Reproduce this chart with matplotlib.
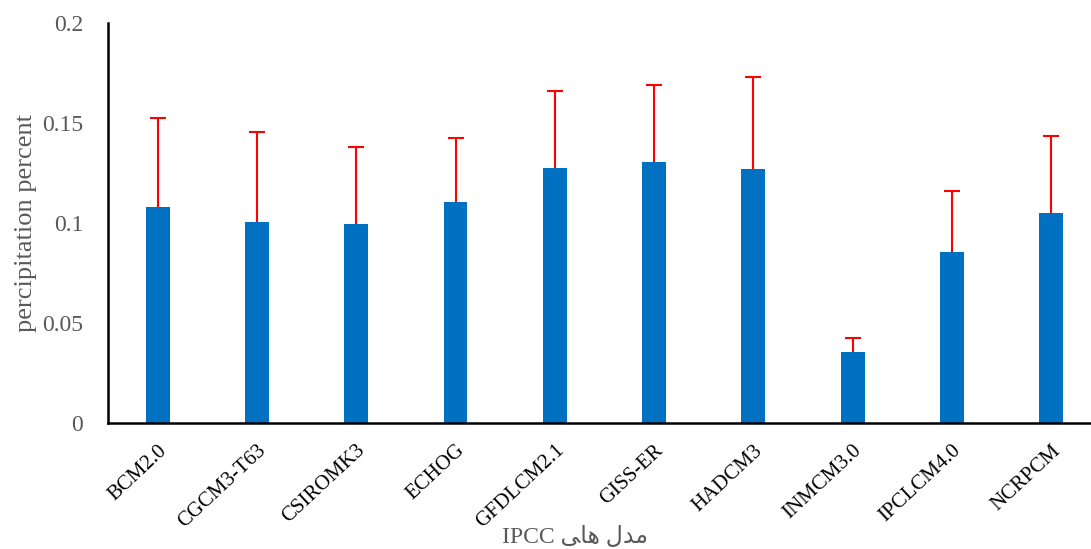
import numpy as np
import matplotlib.pyplot as plt

# IPCC models: precipitation percent with upper error
models = ['BCM2.0', 'CGCM3-T63', 'CSIROMK3', 'ECHOG', 'GFDLCM2.1',
          'GISS-ER', 'HADCM3', 'INMCM3.0', 'IPCLCM4.0', 'NCRPCM']
values = [0.108, 0.1005, 0.0995, 0.1105, 0.1275, 0.1305, 0.127, 0.0355, 0.0855, 0.105]
err_top = [0.1525, 0.1455, 0.138, 0.1425, 0.166, 0.169, 0.173, 0.0425, 0.116, 0.1435]
yticks = [0, 0.05, 0.1, 0.15, 0.2]
ytick_labels = ['0', '0.05', '0.1', '0.15', '0.2']

# x label: "مدل های IPCC" in visual order with presentation forms
xlabel = 'IPCC ' + '\uFBFD\uFE8E\uFEEB' + ' ' + '\uFEDD\uFEAA\uFEE3'

serif = ['Liberation Serif', 'DejaVu Sans']
gray = '#595959'

fig = plt.figure(figsize=(10.91, 5.49), dpi=100)
ax = fig.add_axes([0.099, 0.2295, 0.901, 0.7285])

x = np.arange(len(models))
ax.bar(x, values, width=0.24, color='#0070C0', zorder=2)
# upper error bars only
ax.vlines(x, values, err_top, colors='red', linewidth=1.5, zorder=3)
ax.plot(x, err_top, linestyle='none', marker='_', markersize=12,
        markeredgewidth=1.5, color='red', zorder=3)

ax.set_xlim(-0.5, 9.4)
ax.set_ylim(0, 0.2)
ax.set_yticks(yticks)
ax.set_yticklabels(ytick_labels, family=serif, fontsize=17, color=gray)
ax.set_xticks(x)
ax.set_xticklabels(models, rotation=43, ha='right', rotation_mode='anchor',
                   family=serif, fontsize=15, color='black')
ax.tick_params(axis='y', length=0, pad=18)
ax.tick_params(axis='x', length=0, pad=13)

for s in ['top', 'right']:
    ax.spines[s].set_visible(False)
for s in ['left', 'bottom']:
    ax.spines[s].set_linewidth(1.8)
    ax.spines[s].set_color('black')

ax.set_ylabel('percipitation percent', family=serif, fontsize=19, color=gray)
ax.yaxis.set_label_coords(-0.072, 0.5)
fig.text(0.527, 0.002, xlabel, family=serif, fontsize=17, color=gray, ha='center', va='bottom')

fig.savefig('out.png', dpi=100)
